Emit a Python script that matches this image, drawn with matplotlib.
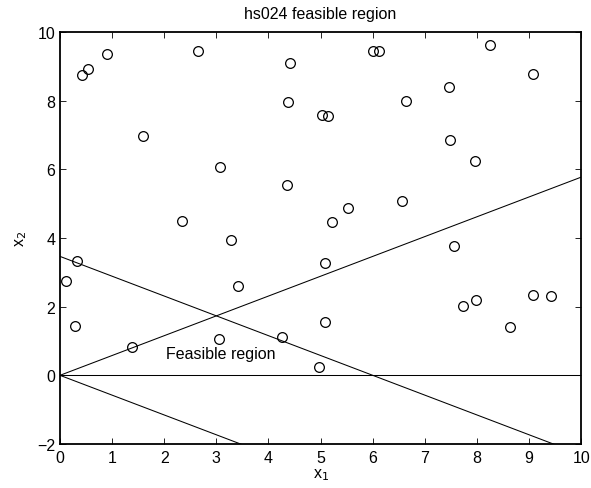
import numpy as np
import matplotlib
matplotlib.use("Agg")
import matplotlib.pyplot as plt

plt.rcParams['font.family'] = ['Liberation Sans', 'DejaVu Sans']

# Sample points scattered over the domain
px = [0.43, 0.53, 0.90, 1.60, 2.65, 4.42, 4.38, 3.07, 4.36, 2.34, 3.28,
      6.00, 6.12, 8.25, 9.08, 7.46, 6.64, 5.03, 5.14, 7.49, 7.97, 6.57, 5.53, 5.22, 7.56,
      0.33, 0.11, 0.29, 1.39, 3.42, 3.06, 4.26,
      5.08, 5.09, 4.96, 7.73, 7.98, 8.64, 9.08, 9.42]
py = [8.75, 8.93, 9.37, 6.98, 9.45, 9.11, 7.95, 6.06, 5.54, 4.49, 3.95,
      9.44, 9.44, 9.61, 8.78, 8.41, 7.99, 7.58, 7.54, 6.85, 6.24, 5.09, 4.88, 4.46, 3.77,
      3.34, 2.75, 1.44, 0.83, 2.60, 1.07, 1.12,
      3.26, 1.56, 0.24, 2.01, 2.18, 1.41, 2.33, 2.31]

x_range = [0, 10]
y_range = [-2, 10]
x_ticks = list(range(0, 11))
y_ticks = [-2, 0, 2, 4, 6, 8, 10]

fs = 11.5

fig = plt.figure(figsize=(5.91, 4.89), dpi=100)
ax = fig.add_axes([0.1015, 0.09, 0.882, 0.8425])

# Constraint boundaries of hs024
s3 = np.sqrt(3.0)
xs = np.linspace(0, 10, 200)
lw = 0.75
ax.plot(xs, xs / s3, color='black', lw=lw)
ax.plot(xs, -xs / s3, color='black', lw=lw)
ax.plot(xs, (6 - xs) / s3, color='black', lw=lw)
ax.plot(xs, np.zeros_like(xs), color='black', lw=lw)

ax.plot(px, py, 'o', mfc='none', mec='black', ms=7, mew=0.9)

ax.text(2.03, 0.63, 'Feasible region', fontsize=fs, va='center', ha='left')

ax.set_xlim(x_range)
ax.set_ylim(y_range)
ax.set_xticks(x_ticks)
ax.set_yticks(y_ticks)
ax.tick_params(direction='in', top=True, right=True, length=4.5, width=0.6, labelsize=fs)
ax.tick_params(axis='x', pad=4)
for s in ax.spines.values():
    s.set_linewidth(1.3)

ax.set_title('hs024 feasible region', fontsize=fs, pad=10)
ax.set_xlabel('x$_1$', fontsize=fs, labelpad=1)
ax.set_ylabel('x$_2$', fontsize=fs, labelpad=6)

fig.savefig('out.png', dpi=100)
